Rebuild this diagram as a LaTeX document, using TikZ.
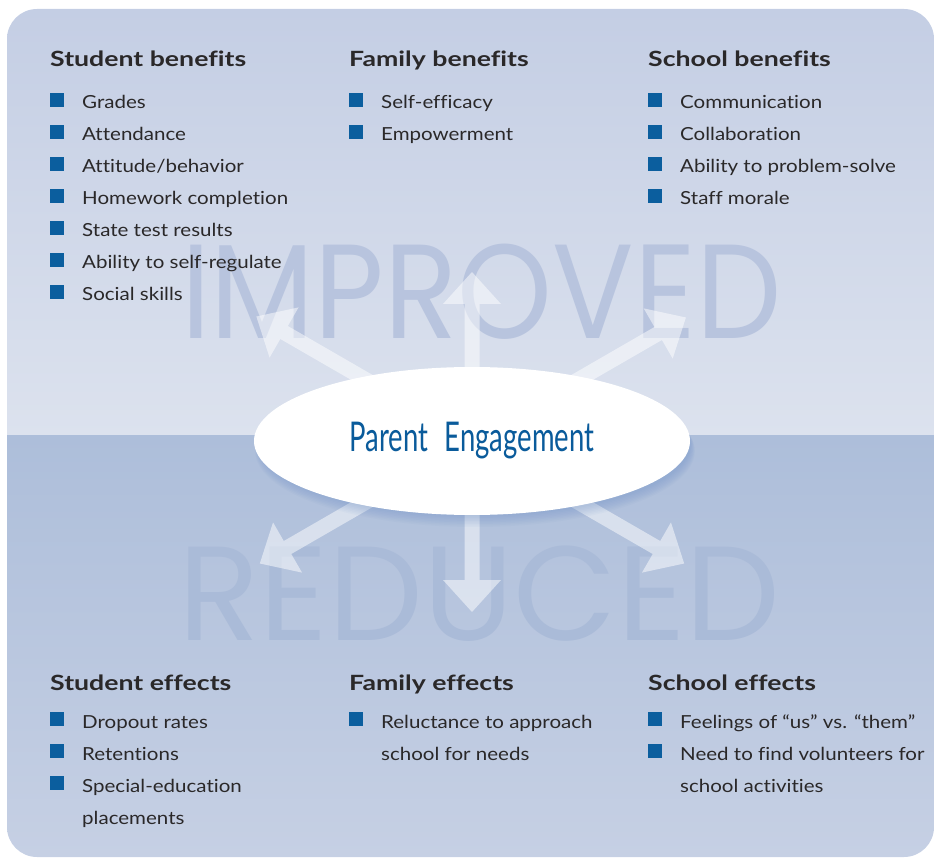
\documentclass[tikz,border=0pt]{standalone}
\usepackage{fontspec}
\setmainfont{Lato}
\newfontfamily\wmfont{Poppins}
\newfontfamily\pefont[FakeStretch=0.67]{Lato}
\newfontfamily\itmfont[FakeStretch=1.14, Ligatures=NoCommon]{Lato}
\newfontfamily\hdfont[FakeStretch=1.27, Ligatures=NoCommon]{Lato}
\usetikzlibrary{shapes.geometric}
\definecolor{bgA}{HTML}{C4CEE4}
\definecolor{bgB}{HTML}{DCE2EE}
\definecolor{bgC}{HTML}{ADBEDA}
\definecolor{bgD}{HTML}{C6D0E4}
\definecolor{wmtop}{HTML}{B8C4DE}
\definecolor{wmbot}{HTML}{AABBD8}
\definecolor{bulblue}{HTML}{0B5E9E}
\definecolor{peblue}{HTML}{0A5B9B}
\definecolor{txt}{HTML}{2A2829}
\definecolor{glowc}{HTML}{5F86C2}
\tikzset{
  hd/.style={anchor=base west, inner sep=0pt, text=txt, font=\hdfont\fontsize{21}{24}\selectfont\bfseries},
  itm/.style={anchor=base west, inner sep=0pt, text=txt, font=\itmfont\fontsize{18}{22}\selectfont},
  bul/.style={fill=bulblue, minimum size=14pt, inner sep=0pt},
  arrowfill/.style={fill=white, opacity=0.5},
  wm/.style={anchor=base west, inner sep=0pt, text depth=0pt, font=\wmfont\fontsize{134}{134}\selectfont}
}
\begin{document}
\begin{tikzpicture}[x=1pt,y=-1pt]
\useasboundingbox (0,0) rectangle (935,858);
% background panel
\begin{scope}
\clip[rounded corners=30pt] (7,9) rectangle (934,857);
\shade[top color=bgA, bottom color=bgB] (7,9) rectangle (934,436);
\shade[top color=bgC, bottom color=bgD] (7,436) rectangle (934,857);
\end{scope}
% watermarks
\node[wm, text=wmtop, xscale=0.9, transform shape] (imp) at (181,339) {IMPROVED};
\node[wm, text=wmbot] (red) at (178,640) {REDUCED};
% arrows
\coordinate (c) at (472,441);
\foreach \a/\L in {90/169, 150/249, 30/247, 210/245, 270/171, 330/245}{
  \begin{scope}[shift={(c)}, rotate=\a]
    \fill[arrowfill] (0,-7.5) -- ({\L-32},-7.5) -- ({\L-32},-29) -- (\L,0)
      -- ({\L-32},29) -- ({\L-32},7.5) -- (0,7.5) -- cycle;
  \end{scope}
}
% glow
\foreach \i in {1,...,8}{
  \fill[glowc, opacity=0.045] (475,{444+0.9*\i}) ellipse [x radius={215pt+0.6pt*\i}, y radius={71pt+0.6pt*\i}];
}
\node[ellipse, fill=white, minimum width=436pt, minimum height=148pt, inner sep=0pt,
  text=peblue, font=\pefont\fontsize{41}{43}\selectfont] (pe) at (c) {Parent\hspace{0.4em}Engagement};
% headings top
\node[hd] (h1) at (50,67) {Student benefits};
\node[hd] (h2) at (349,67) {Family benefits};
\node[hd] (h3) at (648,67) {School benefits};
\foreach \t [count=\i] in {Grades, Attendance, Attitude/behavior, Homework completion, State test results, Ability to self-regulate, Social skills}{
  \node[bul] (sb\i) at (57,{100+32*(\i-1)}) {};
  \node[itm] (st\i) at (82,{109+32*(\i-1)}) {\t};
}
\foreach \t [count=\i] in {Self-efficacy, Empowerment}{
  \node[bul] (fb\i) at (356,{100+32*(\i-1)}) {};
  \node[itm] (ft\i) at (381,{109+32*(\i-1)}) {\t};
}
\foreach \t [count=\i] in {Communication, Collaboration, Ability to problem-solve, Staff morale}{
  \node[bul] (cb\i) at (655,{100+32*(\i-1)}) {};
  \node[itm] (ct\i) at (680,{109+32*(\i-1)}) {\t};
}
% headings bottom
\node[hd] (h4) at (50,690) {Student effects};
\node[hd] (h5) at (349,690) {Family effects};
\node[hd] (h6) at (648,690) {School effects};
\node[bul] (eb1) at (57,719) {};
\node[itm] (et1) at (82,728) {Dropout rates};
\node[bul] (eb2) at (57,751) {};
\node[itm] (et2) at (82,760) {Retentions};
\node[bul] (eb3) at (57,783) {};
\node[itm] (et3) at (82,792) {Special-education};
\node[itm] (et4) at (82,824) {placements};
\node[bul] (gb1) at (356,719) {};
\node[itm] (gt1) at (381,728) {Reluctance to approach};
\node[itm] (gt2) at (381,760) {school for needs};
\node[bul] (kb1) at (655,719) {};
\node[itm] (kt1) at (680,728) {Feelings of “us” vs. “them”};
\node[bul] (kb2) at (655,751) {};
\node[itm] (kt2) at (680,760) {Need to find volunteers for};
\node[itm] (kt3) at (680,792) {school activities};
\end{tikzpicture}
\end{document}
